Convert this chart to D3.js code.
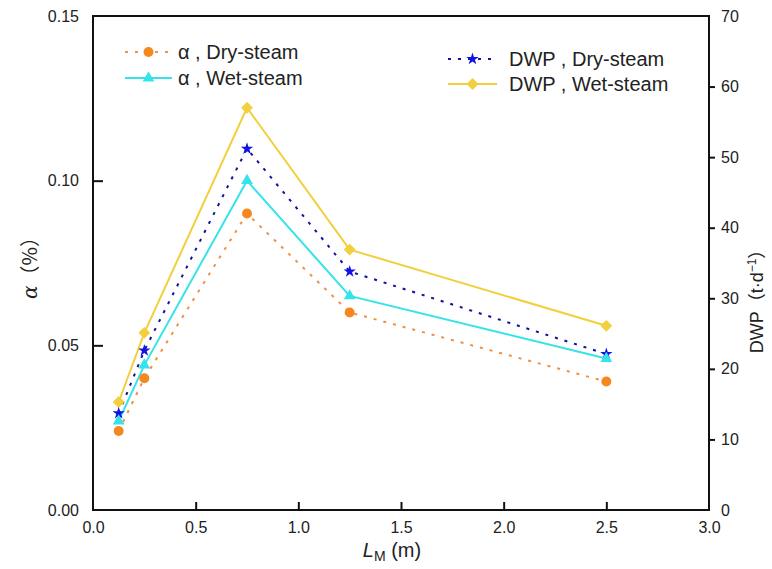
<!DOCTYPE html>
<html>
<head>
<meta charset="utf-8">
<script src="https://cdn.jsdelivr.net/npm/d3@7"></script>
<style>
  html, body { margin: 0; padding: 0; background: #fff; }
  svg { display: block; font-family: "Liberation Sans", Arial, sans-serif; }
</style>
</head>
<body>
<svg id="chart" width="772" height="569"></svg>
<script>
// Mirror length L_M (m)
const lengths = [0.125, 0.25, 0.75, 1.25, 2.5];
// α (%) on the left axis
const alphaDry = [0.024, 0.040, 0.090, 0.060, 0.039];
const alphaWet = [0.027, 0.044, 0.100, 0.065, 0.046];
// DWP (t·d⁻¹) on the right axis
const dwpDry = [13.7, 22.6, 51.2, 33.8, 22.1];
const dwpWet = [15.3, 25.1, 57.0, 36.9, 26.1];

const xTicks = [0, 0.5, 1.0, 1.5, 2.0, 2.5, 3.0];
const leftTicks = [0, 0.05, 0.10, 0.15];
const rightTicks = [0, 10, 20, 30, 40, 50, 60, 70];

const svg = d3.select("#chart");
const plot = { left: 93, right: 709, top: 16, bottom: 510 };

const x = d3.scaleLinear().domain([0, 3]).range([plot.left, plot.right]);
const yL = d3.scaleLinear().domain([0, 0.15]).range([plot.bottom, plot.top]);
const yR = d3.scaleLinear().domain([0, 70]).range([plot.bottom, plot.top]);

const series = [
  { name: "α , Dry-steam", vals: alphaDry, y: yL, color: "#F4881E", line: "#F09040", dash: "3,7", symbol: d3.symbolCircle, size: 78, rot: 0 },
  { name: "α , Wet-steam", vals: alphaWet, y: yL, color: "#35E3EA", line: "#35E3EA", dash: null, symbol: d3.symbolTriangle, size: 60, rot: 0 },
  { name: "DWP , Dry-steam", vals: dwpDry, y: yR, color: "#1212E6", line: "#12129A", dash: "3,7", symbol: d3.symbolStar, size: 48, rot: 0 },
  { name: "DWP , Wet-steam", vals: dwpWet, y: yR, color: "#F2CF3C", line: "#F2CF3C", dash: null, symbol: d3.symbolSquare, size: 70, rot: 45 }
];

// Lines and markers, drawn wet-steam DWP first so the lower curves sit on top
const drawOrder = [3, 2, 1, 0];
drawOrder.forEach(i => {
  const s = series[i];
  const line = d3.line().x((d, j) => x(lengths[j])).y(d => s.y(d));
  svg.append("path")
    .datum(s.vals)
    .attr("d", line)
    .attr("fill", "none")
    .attr("stroke", s.line)
    .attr("stroke-width", 2)
    .attr("stroke-dasharray", s.dash);
});
drawOrder.forEach(i => {
  const s = series[i];
  svg.append("g").selectAll("path")
    .data(s.vals)
    .join("path")
    .attr("d", d3.symbol().type(s.symbol).size(s.size))
    .attr("transform", (d, j) => `translate(${x(lengths[j])},${s.y(d)}) rotate(${s.rot})`)
    .attr("fill", s.color);
});

// Axes
const tickColor = "#222";
const gx = svg.append("g")
  .attr("transform", `translate(0,${plot.bottom})`)
  .call(d3.axisBottom(x).tickValues(xTicks).tickFormat(d3.format(".1f")).tickSizeInner(-8).tickSizeOuter(0).tickPadding(12));
const gl = svg.append("g")
  .attr("transform", `translate(${plot.left},0)`)
  .call(d3.axisLeft(yL).tickValues(leftTicks).tickFormat(d3.format(".2f")).tickSizeInner(-10).tickSizeOuter(0).tickPadding(14));
const gr = svg.append("g")
  .attr("transform", `translate(${plot.right},0)`)
  .call(d3.axisRight(yR).tickValues(rightTicks).tickSizeInner(6).tickSizeOuter(0).tickPadding(6));

[gx, gl, gr].forEach(g => {
  g.select(".domain").remove();
  g.selectAll(".tick line").attr("stroke", "#111").attr("stroke-width", 2);
  g.selectAll(".tick text").attr("fill", tickColor).style("font-size", "16px")
    .style("font-family", "'Liberation Sans', Arial, sans-serif");
});
// hide tick marks that coincide with the frame
gx.selectAll(".tick").filter(d => d === 0 || d === 3).select("line").remove();
gl.selectAll(".tick").filter(d => d === 0 || d === 0.15).select("line").remove();
gr.selectAll(".tick").filter(d => d === 0 || d === 70).select("line").remove();

// Frame
svg.append("rect")
  .attr("x", plot.left).attr("y", plot.top)
  .attr("width", plot.right - plot.left).attr("height", plot.bottom - plot.top)
  .attr("fill", "none").attr("stroke", "#111").attr("stroke-width", 2);

// Axis titles
const xt = svg.append("text")
  .attr("x", 392).attr("y", 557)
  .attr("text-anchor", "middle")
  .attr("fill", "#222")
  .style("font-size", "20px");
xt.append("tspan").attr("font-style", "italic").text("L");
xt.append("tspan").attr("dy", 4).style("font-size", "14px").text("M");
xt.append("tspan").attr("dy", -4).text(" (m)");

const lt = svg.append("text")
  .attr("transform", "translate(37,263) rotate(-90)")
  .attr("text-anchor", "middle")
  .attr("fill", "#222")
  .style("font-size", "20px");
lt.append("tspan").attr("font-style", "italic").style("font-family", "'DejaVu Serif', serif").text("α");
lt.append("tspan").style("font-family", "'Noto Sans CJK SC', sans-serif").text("（%）");

const rt = svg.append("text")
  .attr("transform", "translate(763,297) rotate(-90)")
  .attr("text-anchor", "middle")
  .attr("fill", "#222")
  .style("font-size", "18px");
rt.append("tspan").text("DWP");
rt.append("tspan").style("font-family", "'Noto Sans CJK SC', sans-serif").text("（");
rt.append("tspan").text("t·d");
rt.append("tspan").attr("dy", -7).style("font-size", "12px").text("−1");
rt.append("tspan").attr("dy", 7).style("font-family", "'Noto Sans CJK SC', sans-serif").text("）");

// Legend
const legendPos = [
  { x0: 125, x1: 172, tx: 178, y: 52 },
  { x0: 125, x1: 172, tx: 178, y: 78 },
  { x0: 448, x1: 497, tx: 509, y: 59 },
  { x0: 448, x1: 497, tx: 509, y: 84 }
];
series.forEach((s, i) => {
  const p = legendPos[i];
  const g = svg.append("g");
  g.append("line")
    .attr("x1", p.x0).attr("x2", p.x1).attr("y1", p.y).attr("y2", p.y)
    .attr("stroke", s.line).attr("stroke-width", 2)
    .attr("stroke-dasharray", s.dash);
  g.append("path")
    .attr("d", d3.symbol().type(s.symbol).size(s.size))
    .attr("transform", `translate(${(p.x0 + p.x1) / 2},${p.y}) rotate(${s.rot})`)
    .attr("fill", s.color);
  g.append("text")
    .attr("x", p.tx).attr("y", p.y)
    .attr("dy", "0.35em")
    .attr("fill", "#222")
    .style("font-size", "20px")
    .text(s.name);
});
</script>
</body>
</html>
